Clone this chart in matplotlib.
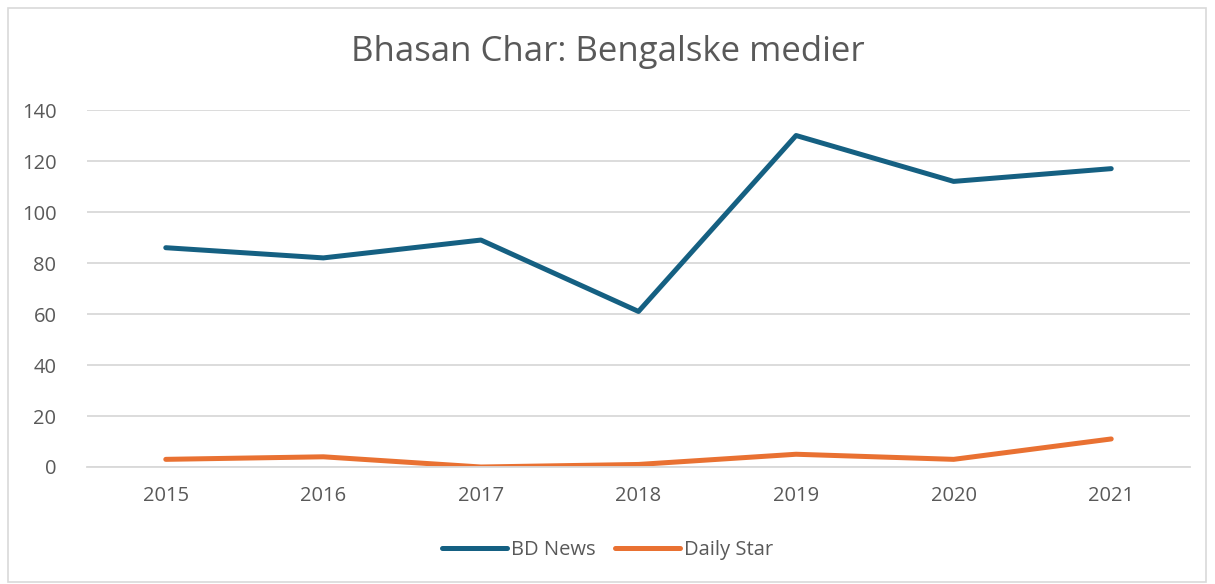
import matplotlib.pyplot as plt
from matplotlib.patches import Rectangle

years = ["2015", "2016", "2017", "2018", "2019", "2020", "2021"]
bd_news = [86, 82, 89, 61, 130, 112, 117]
daily_star = [3, 4, 0, 1, 5, 3, 11]

plt.rcParams["font.family"] = ["Open Sans", "DejaVu Sans"]
text_col = "#595959"

fig = plt.figure(figsize=(12.15, 5.84), dpi=100)
ax = fig.add_axes([87 / 1215, 1 - 467 / 584, (1190 - 87) / 1215, (467 - 110) / 584])

x = range(len(years))
ax.plot(x, bd_news, color="#156082", lw=3.6, label="BD News", solid_capstyle="round")
ax.plot(x, daily_star, color="#E97132", lw=3.6, label="Daily Star", solid_capstyle="round")

ax.set_xlim(-0.5, len(years) - 0.5)
ax.set_ylim(0, 140)
ax.set_yticks(range(0, 141, 20))
ax.set_xticks(list(x))
ax.set_xticklabels(years)
ax.grid(axis="y", color="#d9d9d9", lw=1.3)
ax.set_axisbelow(True)
for s in ["top", "right", "left"]:
    ax.spines[s].set_visible(False)
ax.spines["bottom"].set_color("#d9d9d9")
ax.spines["bottom"].set_linewidth(1.3)
ax.tick_params(axis="both", length=0, labelsize=14.5, colors=text_col)
ax.tick_params(axis="x", pad=14)
ax.tick_params(axis="y", pad=22)

fig.text(0.5, 1 - 52 / 584, "Bhasan Char: Bengalske medier", ha="center", va="center",
         fontsize=25, color=text_col)

leg = fig.legend(loc="center", bbox_to_anchor=(0.5, 1 - 550 / 584), ncol=2, frameon=False,
                 fontsize=14.5, handlelength=3.2, columnspacing=1.0, handletextpad=0.2)
for t in leg.get_texts():
    t.set_color(text_col)

fig.patches.append(Rectangle((8 / 1215, 2 / 584), 1198 / 1215, 574 / 584, transform=fig.transFigure,
                             fill=False, edgecolor="#d9d9d9", lw=1.2))

plt.savefig("out.png", dpi=100)
